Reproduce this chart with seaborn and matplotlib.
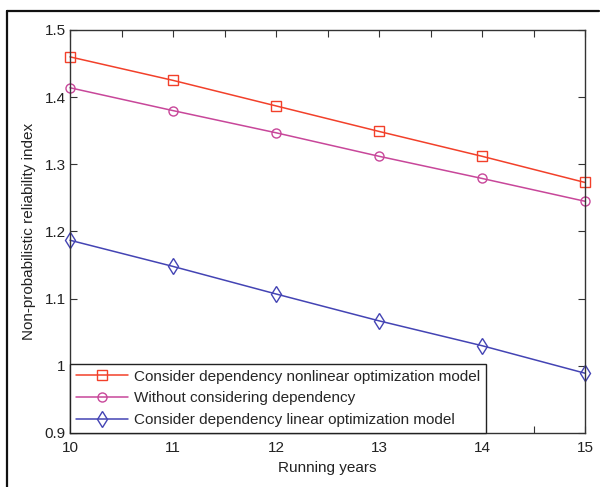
import numpy as np
import pandas as pd
import matplotlib
matplotlib.use("Agg")
import matplotlib.pyplot as plt
import matplotlib.ticker as mticker
from matplotlib.lines import Line2D
import seaborn as sns

# Datos
years = [10, 11, 12, 13, 14, 15]
nonlinear_model = [1.460, 1.425, 1.387, 1.349, 1.312, 1.273]
without_dependency = [1.414, 1.380, 1.347, 1.312, 1.279, 1.245]
linear_model = [1.187, 1.148, 1.107, 1.067, 1.030, 0.989]

labels = ["Consider dependency nonlinear optimization model",
          "Without considering dependency",
          "Consider dependency linear optimization model"]
colors = ["#f2402a", "#c8479a", "#4444b4"]
markers = ["s", "o", "d"]
msizes = [7, 6.5, 8.5]

df = pd.DataFrame({
    "year": years * 3,
    "value": nonlinear_model + without_dependency + linear_model,
    "serie": [labels[0]] * 6 + [labels[1]] * 6 + [labels[2]] * 6,
})

sns.set_style("white")
plt.rcParams["font.family"] = ["Liberation Sans", "DejaVu Sans"]

fig = plt.figure(figsize=(6.0, 4.87), dpi=100)
ax = fig.add_axes([70 / 600, 1 - 433 / 487, 515 / 600, 403 / 487])

for lab, c, m, ms in zip(labels, colors, markers, msizes):
    sub = df[df["serie"] == lab]
    sns.lineplot(data=sub, x="year", y="value", ax=ax, color=c, marker=m,
                 markersize=ms, markerfacecolor="none", markeredgecolor=c,
                 markeredgewidth=1.0, linewidth=1.1, label=lab, clip_on=False)

ax.set_xlim(10, 15)
ax.set_ylim(0.9, 1.5)
ax.xaxis.set_major_locator(mticker.MultipleLocator(0.5))
ax.xaxis.set_major_formatter(mticker.FuncFormatter(
    lambda v, p: f"{int(v)}" if abs(v - round(v)) < 1e-6 else ""))
ax.yaxis.set_major_locator(mticker.MultipleLocator(0.1))
ax.yaxis.set_major_formatter(mticker.FuncFormatter(
    lambda v, p: "1" if abs(v - 1) < 1e-6 else "%.1f" % v))
ax.tick_params(direction="in", length=5, width=0.8, colors="#333333",
               labelcolor="#222222", labelsize=11, top=True, right=True,
               bottom=True, left=True, pad=3)
ax.tick_params(axis="x", pad=6)
for s in ax.spines.values():
    s.set_visible(True)
    s.set_color("#333333")
    s.set_linewidth(1.0)

ax.set_xlabel("Running years", fontsize=11, color="#222222", labelpad=4)
ax.set_ylabel("Non-probabilistic reliability index", fontsize=11,
              color="#222222", labelpad=6)

handles = [Line2D([], [], color=c, marker=m, markersize=ms,
                  markerfacecolor="none", markeredgecolor=c, linewidth=1.1)
           for c, m, ms in zip(colors, markers, msizes)]
leg = ax.legend(handles, labels, loc="lower left", borderaxespad=0,
                fancybox=False, frameon=True, edgecolor="#222222",
                framealpha=1, fontsize=11, handlelength=3.4,
                labelspacing=0.5, borderpad=0.4, handletextpad=0.4)
leg.get_frame().set_linewidth(1.0)

# Marco exterior (solo arriba e izquierda)
fig.add_artist(Line2D([7 / 600, 599 / 600], [1 - 11 / 487, 1 - 11 / 487],
                      transform=fig.transFigure, color="#111111", linewidth=1.6))
fig.add_artist(Line2D([7 / 600, 7 / 600], [1 - 11 / 487, 0.0],
                      transform=fig.transFigure, color="#111111", linewidth=1.6))

fig.savefig("out.png", dpi=100)
